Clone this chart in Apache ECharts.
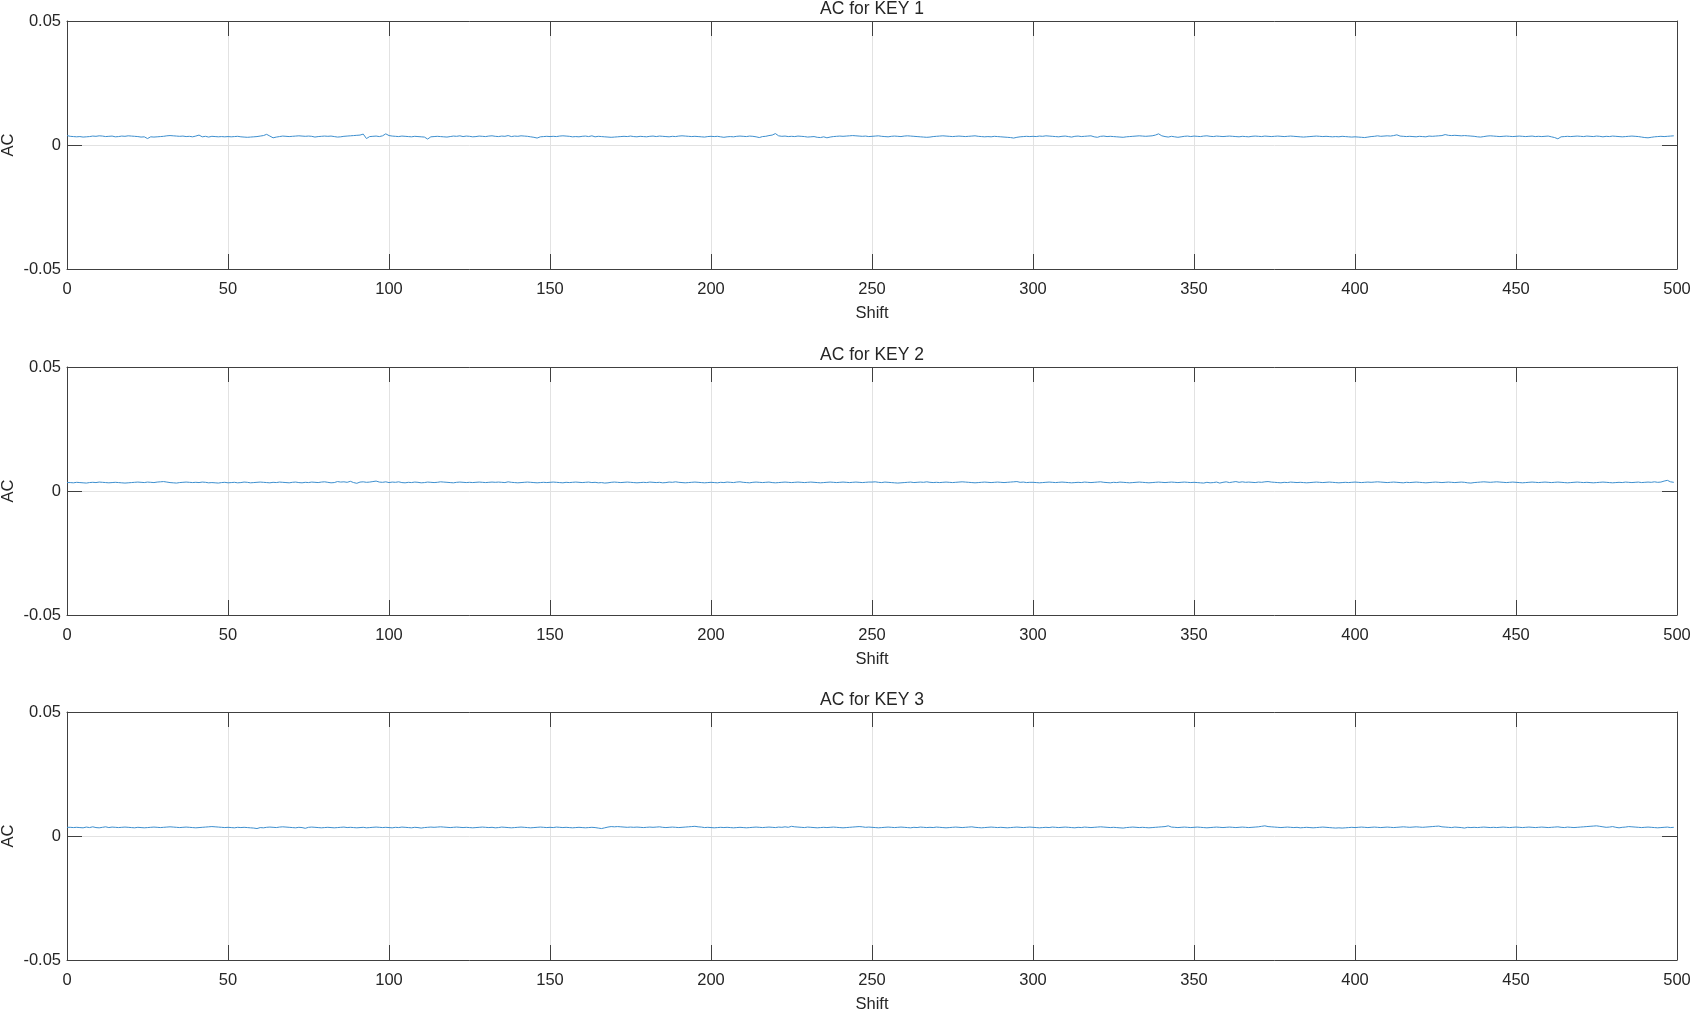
<!DOCTYPE html>
<html><head><meta charset="utf-8">
<script src="https://cdn.jsdelivr.net/npm/echarts@6/dist/echarts.min.js"></script>
<style>html,body{margin:0;padding:0;background:#fff}#c{width:1692px;height:1012px}</style>
</head><body><div id="c"></div>
<script>
const titles = ['AC for KEY 1', 'AC for KEY 2', 'AC for KEY 3'];
const xAxisName = 'Shift';
const yAxisName = 'AC';
const xTickValues = [0, 50, 100, 150, 200, 250, 300, 350, 400, 450, 500];
const yTickValues = [-0.05, 0, 0.05];

const key1 = [
0.0038,0.0035,0.0034,0.0033,0.0034,0.0032,0.0033,0.0034,0.0036,0.0035,0.0037,0.0036,0.0034,0.0035,0.0036,0.0033,0.0034,0.0036,0.0035,0.0037,0.0036,0.0035,0.0034,0.0032,0.0033,
0.0026,0.0033,0.0032,0.0033,0.0034,0.0035,0.0037,0.0038,0.0037,0.0036,0.0035,0.0036,0.0034,0.0035,0.0033,0.0036,0.0040,0.0033,0.0035,0.0032,0.0035,0.0034,0.0033,0.0034,0.0033,
0.0034,0.0033,0.0034,0.0035,0.0033,0.0032,0.0031,0.0032,0.0033,0.0034,0.0036,0.0038,0.0043,0.0036,0.0029,0.0032,0.0034,0.0036,0.0035,0.0034,0.0035,0.0036,0.0037,0.0036,0.0035,
0.0036,0.0035,0.0032,0.0034,0.0035,0.0036,0.0035,0.0036,0.0034,0.0032,0.0033,0.0035,0.0036,0.0037,0.0038,0.0039,0.0040,0.0044,0.0026,0.0034,0.0035,0.0036,0.0034,0.0037,0.0045,
0.0038,0.0036,0.0035,0.0034,0.0036,0.0035,0.0034,0.0033,0.0035,0.0034,0.0033,0.0032,0.0024,0.0033,0.0034,0.0035,0.0034,0.0033,0.0032,0.0034,0.0036,0.0035,0.0037,0.0034,0.0036,
0.0035,0.0033,0.0034,0.0036,0.0035,0.0034,0.0036,0.0037,0.0035,0.0034,0.0036,0.0035,0.0038,0.0034,0.0036,0.0035,0.0037,0.0036,0.0035,0.0033,0.0031,0.0028,0.0033,0.0034,0.0035,
0.0034,0.0035,0.0034,0.0036,0.0037,0.0036,0.0035,0.0033,0.0034,0.0033,0.0035,0.0036,0.0034,0.0037,0.0033,0.0035,0.0034,0.0033,0.0032,0.0031,0.0032,0.0033,0.0034,0.0035,0.0034,
0.0036,0.0034,0.0033,0.0035,0.0034,0.0033,0.0035,0.0036,0.0034,0.0036,0.0035,0.0034,0.0033,0.0035,0.0034,0.0036,0.0037,0.0036,0.0035,0.0034,0.0035,0.0034,0.0033,0.0032,0.0034,
0.0035,0.0034,0.0035,0.0033,0.0031,0.0033,0.0034,0.0033,0.0035,0.0036,0.0035,0.0034,0.0036,0.0035,0.0033,0.0030,0.0034,0.0035,0.0038,0.0040,0.0046,0.0037,0.0035,0.0036,0.0034,
0.0035,0.0034,0.0036,0.0035,0.0034,0.0032,0.0033,0.0034,0.0031,0.0030,0.0033,0.0029,0.0032,0.0034,0.0035,0.0036,0.0035,0.0036,0.0037,0.0038,0.0037,0.0036,0.0035,0.0036,0.0034,
0.0035,0.0036,0.0037,0.0035,0.0034,0.0033,0.0035,0.0036,0.0035,0.0034,0.0036,0.0037,0.0036,0.0035,0.0034,0.0033,0.0032,0.0031,0.0032,0.0034,0.0035,0.0036,0.0037,0.0036,0.0035,
0.0034,0.0035,0.0036,0.0035,0.0034,0.0035,0.0036,0.0037,0.0035,0.0034,0.0033,0.0034,0.0033,0.0035,0.0034,0.0033,0.0032,0.0031,0.0030,0.0028,0.0031,0.0033,0.0034,0.0035,0.0034,
0.0035,0.0034,0.0036,0.0035,0.0037,0.0036,0.0035,0.0034,0.0033,0.0035,0.0036,0.0034,0.0032,0.0035,0.0036,0.0034,0.0035,0.0036,0.0037,0.0033,0.0031,0.0035,0.0036,0.0034,0.0035,
0.0034,0.0033,0.0032,0.0031,0.0033,0.0034,0.0035,0.0036,0.0037,0.0036,0.0035,0.0036,0.0037,0.0040,0.0045,0.0037,0.0034,0.0032,0.0035,0.0033,0.0031,0.0033,0.0035,0.0036,0.0034,
0.0036,0.0035,0.0034,0.0036,0.0037,0.0035,0.0034,0.0036,0.0035,0.0034,0.0035,0.0036,0.0035,0.0034,0.0033,0.0035,0.0034,0.0033,0.0035,0.0036,0.0035,0.0034,0.0036,0.0035,0.0034,
0.0035,0.0036,0.0035,0.0034,0.0035,0.0036,0.0035,0.0034,0.0033,0.0032,0.0033,0.0034,0.0035,0.0036,0.0035,0.0034,0.0035,0.0034,0.0033,0.0034,0.0033,0.0035,0.0034,0.0033,0.0032,
0.0033,0.0032,0.0031,0.0030,0.0032,0.0034,0.0035,0.0037,0.0035,0.0036,0.0037,0.0036,0.0038,0.0041,0.0036,0.0035,0.0034,0.0035,0.0034,0.0033,0.0035,0.0034,0.0033,0.0036,0.0035,
0.0036,0.0037,0.0038,0.0042,0.0039,0.0038,0.0039,0.0038,0.0037,0.0038,0.0037,0.0036,0.0035,0.0033,0.0032,0.0034,0.0036,0.0037,0.0036,0.0035,0.0034,0.0035,0.0036,0.0035,0.0034,
0.0035,0.0036,0.0035,0.0034,0.0035,0.0036,0.0034,0.0035,0.0034,0.0035,0.0036,0.0033,0.0030,0.0025,0.0033,0.0034,0.0035,0.0034,0.0035,0.0036,0.0035,0.0034,0.0036,0.0035,0.0034,
0.0036,0.0035,0.0033,0.0035,0.0034,0.0036,0.0035,0.0034,0.0033,0.0034,0.0035,0.0036,0.0035,0.0034,0.0032,0.0030,0.0029,0.0031,0.0033,0.0034,0.0035,0.0034,0.0035,0.0036,0.0037
];

const key2 = [
0.0034,0.0034,0.0033,0.0035,0.0034,0.0033,0.0032,0.0034,0.0035,0.0034,0.0036,0.0035,0.0034,0.0033,0.0034,0.0035,0.0034,0.0033,0.0032,0.0033,0.0034,0.0035,0.0036,0.0035,0.0034,
0.0036,0.0035,0.0034,0.0036,0.0037,0.0038,0.0036,0.0034,0.0033,0.0032,0.0034,0.0035,0.0036,0.0035,0.0034,0.0035,0.0034,0.0036,0.0035,0.0033,0.0034,0.0033,0.0032,0.0034,0.0035,
0.0033,0.0034,0.0035,0.0033,0.0034,0.0036,0.0035,0.0033,0.0034,0.0035,0.0036,0.0035,0.0034,0.0033,0.0035,0.0034,0.0036,0.0035,0.0034,0.0033,0.0035,0.0036,0.0034,0.0033,0.0035,
0.0034,0.0036,0.0035,0.0034,0.0036,0.0037,0.0035,0.0033,0.0034,0.0038,0.0036,0.0037,0.0035,0.0039,0.0034,0.0031,0.0036,0.0037,0.0035,0.0036,0.0038,0.0040,0.0036,0.0035,0.0037,
0.0034,0.0036,0.0035,0.0037,0.0034,0.0033,0.0035,0.0034,0.0036,0.0035,0.0033,0.0034,0.0036,0.0035,0.0034,0.0035,0.0037,0.0036,0.0035,0.0034,0.0033,0.0035,0.0036,0.0035,0.0034,
0.0035,0.0034,0.0035,0.0036,0.0035,0.0034,0.0035,0.0036,0.0035,0.0036,0.0035,0.0034,0.0037,0.0035,0.0034,0.0033,0.0034,0.0035,0.0036,0.0035,0.0034,0.0033,0.0034,0.0035,0.0034,
0.0035,0.0036,0.0035,0.0034,0.0033,0.0035,0.0034,0.0035,0.0036,0.0035,0.0034,0.0035,0.0036,0.0034,0.0035,0.0033,0.0034,0.0032,0.0033,0.0035,0.0036,0.0035,0.0034,0.0035,0.0036,
0.0035,0.0034,0.0033,0.0034,0.0035,0.0034,0.0036,0.0035,0.0034,0.0035,0.0033,0.0034,0.0036,0.0035,0.0037,0.0035,0.0034,0.0033,0.0034,0.0035,0.0036,0.0035,0.0034,0.0033,0.0034,
0.0035,0.0034,0.0033,0.0035,0.0034,0.0036,0.0035,0.0034,0.0036,0.0037,0.0035,0.0034,0.0033,0.0035,0.0036,0.0035,0.0034,0.0035,0.0036,0.0034,0.0033,0.0034,0.0035,0.0036,0.0035,
0.0034,0.0035,0.0036,0.0035,0.0034,0.0035,0.0036,0.0035,0.0034,0.0033,0.0034,0.0035,0.0036,0.0035,0.0034,0.0035,0.0036,0.0035,0.0034,0.0035,0.0036,0.0035,0.0034,0.0035,0.0036,
0.0036,0.0037,0.0035,0.0034,0.0036,0.0035,0.0034,0.0033,0.0032,0.0033,0.0034,0.0035,0.0036,0.0034,0.0035,0.0036,0.0035,0.0037,0.0035,0.0034,0.0035,0.0034,0.0035,0.0036,0.0035,
0.0034,0.0035,0.0036,0.0037,0.0036,0.0035,0.0034,0.0033,0.0034,0.0035,0.0036,0.0035,0.0034,0.0035,0.0036,0.0035,0.0034,0.0035,0.0036,0.0037,0.0038,0.0035,0.0036,0.0034,0.0035,
0.0035,0.0034,0.0033,0.0034,0.0035,0.0036,0.0035,0.0034,0.0035,0.0036,0.0035,0.0034,0.0033,0.0034,0.0035,0.0034,0.0036,0.0035,0.0034,0.0035,0.0036,0.0037,0.0035,0.0034,0.0033,
0.0035,0.0034,0.0036,0.0035,0.0034,0.0033,0.0034,0.0035,0.0036,0.0035,0.0034,0.0033,0.0034,0.0035,0.0036,0.0035,0.0034,0.0035,0.0036,0.0035,0.0034,0.0035,0.0036,0.0035,0.0034,
0.0035,0.0034,0.0033,0.0032,0.0035,0.0033,0.0034,0.0036,0.0032,0.0035,0.0037,0.0034,0.0036,0.0038,0.0035,0.0037,0.0035,0.0036,0.0035,0.0034,0.0036,0.0035,0.0037,0.0038,0.0036,
0.0035,0.0034,0.0033,0.0035,0.0034,0.0036,0.0035,0.0034,0.0035,0.0034,0.0033,0.0034,0.0035,0.0036,0.0035,0.0034,0.0035,0.0036,0.0035,0.0034,0.0033,0.0034,0.0035,0.0034,0.0035,
0.0036,0.0035,0.0034,0.0035,0.0036,0.0035,0.0036,0.0037,0.0036,0.0035,0.0034,0.0035,0.0036,0.0035,0.0034,0.0033,0.0035,0.0034,0.0035,0.0036,0.0035,0.0034,0.0033,0.0034,0.0035,
0.0036,0.0035,0.0034,0.0035,0.0036,0.0035,0.0034,0.0035,0.0036,0.0035,0.0033,0.0032,0.0034,0.0035,0.0036,0.0037,0.0036,0.0035,0.0036,0.0037,0.0036,0.0035,0.0034,0.0035,0.0036,
0.0035,0.0034,0.0033,0.0034,0.0035,0.0036,0.0035,0.0034,0.0035,0.0036,0.0035,0.0034,0.0035,0.0036,0.0035,0.0034,0.0033,0.0034,0.0035,0.0036,0.0035,0.0034,0.0035,0.0034,0.0033,
0.0034,0.0035,0.0036,0.0035,0.0034,0.0033,0.0034,0.0035,0.0034,0.0036,0.0035,0.0034,0.0035,0.0036,0.0034,0.0035,0.0036,0.0035,0.0037,0.0035,0.0036,0.0040,0.0043,0.0037,0.0035
];

const key3 = [
0.0035,0.0035,0.0034,0.0035,0.0034,0.0033,0.0036,0.0034,0.0037,0.0034,0.0033,0.0035,0.0037,0.0034,0.0036,0.0035,0.0034,0.0035,0.0036,0.0035,0.0034,0.0033,0.0035,0.0034,0.0033,
0.0034,0.0035,0.0036,0.0035,0.0034,0.0035,0.0036,0.0037,0.0036,0.0035,0.0034,0.0035,0.0036,0.0035,0.0034,0.0033,0.0034,0.0035,0.0036,0.0037,0.0038,0.0037,0.0036,0.0035,0.0034,
0.0035,0.0034,0.0033,0.0035,0.0034,0.0035,0.0034,0.0033,0.0032,0.0030,0.0034,0.0033,0.0035,0.0036,0.0035,0.0034,0.0036,0.0037,0.0036,0.0035,0.0034,0.0033,0.0035,0.0034,0.0031,
0.0035,0.0036,0.0035,0.0034,0.0033,0.0034,0.0035,0.0034,0.0033,0.0034,0.0035,0.0036,0.0034,0.0035,0.0034,0.0033,0.0034,0.0035,0.0033,0.0034,0.0035,0.0036,0.0035,0.0034,0.0035,
0.0034,0.0033,0.0035,0.0034,0.0036,0.0035,0.0034,0.0033,0.0035,0.0034,0.0032,0.0034,0.0035,0.0036,0.0035,0.0036,0.0037,0.0036,0.0035,0.0034,0.0035,0.0036,0.0035,0.0034,0.0035,
0.0034,0.0033,0.0034,0.0035,0.0036,0.0035,0.0034,0.0035,0.0033,0.0034,0.0036,0.0035,0.0034,0.0033,0.0034,0.0035,0.0036,0.0035,0.0034,0.0033,0.0034,0.0035,0.0036,0.0035,0.0034,
0.0035,0.0034,0.0036,0.0035,0.0034,0.0035,0.0034,0.0033,0.0034,0.0035,0.0034,0.0033,0.0034,0.0035,0.0034,0.0032,0.0030,0.0033,0.0036,0.0038,0.0037,0.0038,0.0037,0.0036,0.0035,
0.0036,0.0035,0.0036,0.0035,0.0034,0.0035,0.0036,0.0035,0.0036,0.0037,0.0035,0.0034,0.0035,0.0036,0.0035,0.0034,0.0035,0.0036,0.0037,0.0038,0.0039,0.0037,0.0036,0.0034,0.0035,
0.0034,0.0033,0.0034,0.0035,0.0034,0.0035,0.0034,0.0033,0.0034,0.0035,0.0034,0.0033,0.0034,0.0035,0.0036,0.0035,0.0034,0.0035,0.0036,0.0035,0.0034,0.0036,0.0035,0.0037,0.0035,
0.0039,0.0037,0.0036,0.0035,0.0034,0.0036,0.0035,0.0034,0.0033,0.0034,0.0035,0.0034,0.0035,0.0036,0.0035,0.0034,0.0033,0.0034,0.0035,0.0036,0.0037,0.0038,0.0037,0.0035,0.0036,
0.0035,0.0034,0.0033,0.0034,0.0035,0.0036,0.0035,0.0034,0.0035,0.0036,0.0035,0.0034,0.0033,0.0035,0.0034,0.0036,0.0035,0.0034,0.0035,0.0034,0.0036,0.0035,0.0034,0.0033,0.0034,
0.0035,0.0036,0.0035,0.0034,0.0035,0.0036,0.0037,0.0035,0.0034,0.0033,0.0034,0.0035,0.0036,0.0035,0.0034,0.0035,0.0034,0.0033,0.0034,0.0035,0.0036,0.0035,0.0034,0.0035,0.0036,
0.0035,0.0034,0.0033,0.0034,0.0035,0.0034,0.0036,0.0035,0.0034,0.0035,0.0036,0.0035,0.0034,0.0033,0.0035,0.0034,0.0036,0.0035,0.0034,0.0035,0.0036,0.0037,0.0036,0.0035,0.0034,
0.0035,0.0034,0.0033,0.0032,0.0034,0.0035,0.0036,0.0035,0.0034,0.0035,0.0034,0.0033,0.0034,0.0035,0.0036,0.0037,0.0038,0.0041,0.0036,0.0035,0.0034,0.0035,0.0036,0.0035,0.0034,
0.0035,0.0036,0.0035,0.0034,0.0033,0.0034,0.0035,0.0036,0.0035,0.0034,0.0035,0.0036,0.0035,0.0034,0.0035,0.0036,0.0035,0.0034,0.0035,0.0036,0.0037,0.0039,0.0041,0.0038,0.0037,
0.0036,0.0035,0.0034,0.0035,0.0036,0.0035,0.0034,0.0035,0.0033,0.0034,0.0035,0.0034,0.0033,0.0034,0.0035,0.0036,0.0035,0.0034,0.0033,0.0032,0.0033,0.0032,0.0033,0.0034,0.0035,
0.0034,0.0035,0.0036,0.0035,0.0034,0.0035,0.0036,0.0035,0.0034,0.0035,0.0036,0.0035,0.0034,0.0035,0.0036,0.0037,0.0036,0.0035,0.0036,0.0037,0.0036,0.0035,0.0036,0.0037,0.0038,
0.0039,0.0040,0.0037,0.0036,0.0035,0.0034,0.0036,0.0035,0.0034,0.0032,0.0035,0.0034,0.0035,0.0034,0.0035,0.0036,0.0035,0.0034,0.0035,0.0034,0.0035,0.0036,0.0035,0.0034,0.0035,
0.0036,0.0035,0.0034,0.0035,0.0036,0.0035,0.0034,0.0035,0.0036,0.0035,0.0034,0.0035,0.0036,0.0037,0.0035,0.0034,0.0036,0.0035,0.0034,0.0035,0.0036,0.0037,0.0038,0.0039,0.0040,
0.0041,0.0039,0.0037,0.0035,0.0036,0.0038,0.0035,0.0033,0.0035,0.0036,0.0038,0.0037,0.0036,0.0035,0.0034,0.0035,0.0036,0.0035,0.0034,0.0033,0.0034,0.0035,0.0036,0.0034,0.0035
];

const seriesValues = [key1, key2, key3];

const FONT = '"Liberation Sans", Arial, Helvetica, sans-serif';
const AX = '#404040';
const TXT = '#262626';
const GRID = '#e2e2e2';
const LINE = '#3d8fcf';
const tops = [21, 367, 712];
const titleTops = [0, 346, 691];

const chart = echarts.init(document.getElementById('c'), null, {renderer: 'canvas'});
const grids = [], xAxes = [], yAxes = [], series = [], title = [];

seriesValues.forEach((vals, i) => {
  grids.push({left: 67, width: 1610, top: tops[i], height: 248, containLabel: false, outerBoundsMode: 'none'});
  title.push({
    text: titles[i], left: 872, top: titleTops[i], textAlign: 'center', padding: 0,
    textStyle: {fontSize: 17.5, fontWeight: 'normal', color: TXT, fontFamily: FONT}
  });
  const xMin = xTickValues[0], xMax = xTickValues[xTickValues.length - 1], xInt = xTickValues[1] - xTickValues[0];
  const yMin = yTickValues[0], yMax = yTickValues[yTickValues.length - 1], yInt = yTickValues[1] - yTickValues[0];
  xAxes.push({
    gridIndex: i, type: 'value', position: 'bottom', min: xMin, max: xMax, interval: xInt,
    axisLine: {show: true, onZero: false, lineStyle: {color: AX, width: 1}},
    axisTick: {show: true, inside: true, length: 15, lineStyle: {color: AX, width: 1}},
    axisLabel: {show: true, margin: 12, color: TXT, fontSize: 16.5, fontFamily: FONT},
    splitLine: {show: true, lineStyle: {color: GRID, width: 1}},
    name: xAxisName, nameLocation: 'middle', nameGap: 36, nameMoveOverlap: false,
    nameTextStyle: {color: TXT, fontSize: 16.5, fontFamily: FONT}
  });
  xAxes.push({
    gridIndex: i, type: 'value', position: 'top', min: xMin, max: xMax, interval: xInt,
    axisLine: {show: true, onZero: false, lineStyle: {color: AX, width: 1}},
    axisTick: {show: true, inside: true, length: 15, lineStyle: {color: AX, width: 1}},
    axisLabel: {show: false}, splitLine: {show: false}
  });
  yAxes.push({
    gridIndex: i, type: 'value', position: 'left', min: yMin, max: yMax, interval: yInt,
    axisLine: {show: true, onZero: false, lineStyle: {color: AX, width: 1}},
    axisTick: {show: true, inside: true, length: 15, lineStyle: {color: AX, width: 1}},
    axisLabel: {show: true, margin: 6, color: TXT, fontSize: 16.5, fontFamily: FONT},
    splitLine: {show: true, lineStyle: {color: GRID, width: 1}},
    name: yAxisName, nameLocation: 'middle', nameGap: 50, nameRotate: 90, nameMoveOverlap: false,
    nameTextStyle: {color: TXT, fontSize: 16.5, fontFamily: FONT}
  });
  yAxes.push({
    gridIndex: i, type: 'value', position: 'right', min: yMin, max: yMax, interval: yInt,
    axisLine: {show: true, onZero: false, lineStyle: {color: AX, width: 1}},
    axisTick: {show: true, inside: true, length: 15, lineStyle: {color: AX, width: 1}},
    axisLabel: {show: false}, splitLine: {show: false}
  });
  series.push({
    type: 'line', xAxisIndex: 2 * i, yAxisIndex: 2 * i,
    data: vals.map((v, k) => [k, v]),
    showSymbol: false, symbol: 'none', smooth: false,
    lineStyle: {width: 1, color: LINE}, z: 3
  });
});

chart.setOption({
  animation: false,
  backgroundColor: '#ffffff',
  title: title,
  grid: grids,
  xAxis: xAxes,
  yAxis: yAxes,
  series: series
});
</script>
</body></html>
